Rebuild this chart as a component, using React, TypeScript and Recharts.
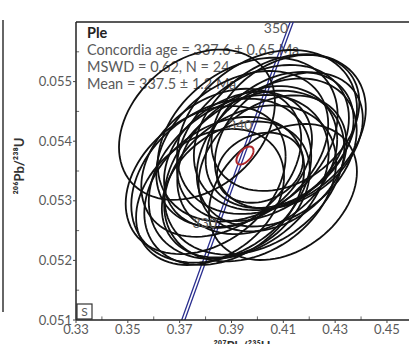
import React from 'react';
import { LineChart, Line, XAxis, YAxis, ReferenceLine } from 'recharts';

// Axis ticks
const xTicks = [0.33, 0.35, 0.37, 0.39, 0.41, 0.43, 0.45];
const xMinorTicks = [0.34, 0.36, 0.38, 0.4, 0.42, 0.44];
const yTicks = [0.051, 0.052, 0.053, 0.054, 0.055];
const yMinorTicks = [0.0515, 0.0525, 0.0535, 0.0545, 0.0555];

// Concordia curve (207Pb/235U, 206Pb/238U) at ages (Ma), two edges of the band
const concordiaAges = [320, 330, 340, 350, 355];
const concordiaXLow = [0.3699, 0.3834, 0.3971, 0.4109, 0.4179];
const concordiaXHigh = [0.3711, 0.3846, 0.3983, 0.4121, 0.4191];
const concordiaY = [0.050893, 0.052524, 0.054158, 0.055795, 0.056614];
const concordiaLabelAges = ['330', '340', '350'];
const concordiaLabelX = [0.384, 0.3977, 0.4115];
const concordiaLabelY = [0.052524, 0.054158, 0.055795];

// Analyses: error ellipses (centre, x half-extent, y half-extent, correlation)
const ellipseCx = [0.38003, 0.38721, 0.38605, 0.39168, 0.38605, 0.3928, 0.3972, 0.39253, 0.39882, 0.39415, 0.39994, 0.39624, 0.40584, 0.40214, 0.40746, 0.40372, 0.40858, 0.40866, 0.41213, 0.41078, 0.38173, 0.40986, 0.40099, 0.37668];
const ellipseCy = [0.053348, 0.053166, 0.053339, 0.05319, 0.053638, 0.0534, 0.053292, 0.053687, 0.053473, 0.053869, 0.053683, 0.054027, 0.053628, 0.05397, 0.053811, 0.054155, 0.05402, 0.054151, 0.054012, 0.054307, 0.053064, 0.053148, 0.053555, 0.054277];
const ellipseA = [0.03086, 0.03086, 0.03472, 0.02855, 0.03086, 0.03472, 0.03318, 0.02855, 0.03472, 0.03318, 0.03086, 0.03472, 0.02855, 0.03318, 0.03086, 0.03472, 0.02855, 0.03318, 0.02855, 0.02855, 0.02855, 0.02855, 0.01659, 0.03009];
const ellipseB = [0.001242, 0.001242, 0.001376, 0.001141, 0.001242, 0.001376, 0.001309, 0.001141, 0.001376, 0.001309, 0.001242, 0.001376, 0.001141, 0.001309, 0.001242, 0.001376, 0.001141, 0.001309, 0.001141, 0.001141, 0.001141, 0.001141, 0.000588, 0.001261];
const ellipseRho = [0.32, 0.3, 0.3, 0.28, 0.32, 0.3, 0.28, 0.3, 0.3, 0.32, 0.28, 0.3, 0.3, 0.32, 0.3, 0.28, 0.3, 0.3, 0.32, 0.3, 0.3, 0.3, 0.2, 0.3];

// Concordia age ellipse
const concordiaAgeEllipse = { cx: 0.3952, cy: 0.05376, a: 0.0033, b: 0.00015, rho: 0.55 };

const X_DOMAIN = [0.33, 0.4585];
const Y_DOMAIN = [0.051, 0.056];

function ellipsePoints(cx: number, cy: number, a: number, b: number, rho: number) {
  const pts: { x: number; y: number }[] = [];
  const s = Math.sqrt(1 - rho * rho);
  for (let k = 0; k <= 90; k++) {
    const t = (k / 90) * 2 * Math.PI;
    pts.push({ x: cx + a * Math.cos(t), y: cy + b * (rho * Math.cos(t) + s * Math.sin(t)) });
  }
  return pts;
}

const ellipses = ellipseCx.map((cx, i) => ellipsePoints(cx, ellipseCy[i], ellipseA[i], ellipseB[i], ellipseRho[i]));
const redEllipse = ellipsePoints(concordiaAgeEllipse.cx, concordiaAgeEllipse.cy, concordiaAgeEllipse.a, concordiaAgeEllipse.b, concordiaAgeEllipse.rho);
const concLow = concordiaAges.map((_, i) => ({ x: concordiaXLow[i], y: concordiaY[i] }));
const concHigh = concordiaAges.map((_, i) => ({ x: concordiaXHigh[i], y: concordiaY[i] }));
const concLabels = concordiaLabelAges.map((t, i) => ({ x: concordiaLabelX[i], y: concordiaLabelY[i], age: t }));

const FONT = 'Lato, "Open Sans", sans-serif';
const TXT = '#5a5a5a';

export default function App() {
  return (
    <div style={{ position: 'absolute', left: 0, top: 0, width: 409, height: 344, overflow: 'hidden', background: '#fff' }}>
      <svg width={409} height={344} style={{ position: 'absolute', left: 0, top: 0 }}>
        <line x1={3} y1={20} x2={3} y2={312} stroke="#666" strokeWidth={2} />
        <text x={87} y={38} fontFamily={FONT} fontSize={14.5} fontWeight={700} fill="#222">Ple</text>
        <text x={87} y={55} fontFamily={FONT} fontSize={14.5} fill={TXT}>Concordia age = 337.6 ± 0.65 Ma</text>
        <text x={87} y={72} fontFamily={FONT} fontSize={14.5} fill={TXT}>MSWD = 0.62, N = 24</text>
        <text x={87} y={89} fontFamily={FONT} fontSize={14.5} fill={TXT}>Mean = 337.5  ± 1.2 Ma</text>
        <text x={0} y={0} transform="translate(24,166) rotate(-90)" textAnchor="middle" fontFamily={FONT} fontSize={13} fontWeight={700} fill="#333">²⁰⁶Pb/²³⁸U</text>
        <text x={242} y={351} textAnchor="middle" fontFamily={FONT} fontSize={13} fontWeight={700} fill="#333">²⁰⁷Pb/²³⁵U</text>
        <rect x={77} y={304} width={15} height={15} fill="none" stroke="#333" strokeWidth={1.2} />
        <text x={84.5} y={316} textAnchor="middle" fontFamily={FONT} fontSize={12} fill={TXT}>S</text>
      </svg>
      <LineChart width={409} height={344} margin={{ top: 22, right: 0, bottom: 0, left: 0 }}>
        <XAxis
          type="number"
          dataKey="x"
          domain={X_DOMAIN}
          allowDataOverflow
          ticks={xTicks}
          height={24}
          tickSize={3}
          tickMargin={2}
          tick={{ fill: TXT, fontSize: 13, fontFamily: FONT }}
          tickFormatter={(v: number) => v.toFixed(2)}
          axisLine={{ stroke: '#222', strokeWidth: 1.5 }}
          tickLine={{ stroke: '#444' }}
        />
        <YAxis
          type="number"
          dataKey="y"
          domain={Y_DOMAIN}
          allowDataOverflow
          ticks={yTicks}
          width={76}
          tickSize={3}
          tickMargin={1}
          tick={{ fill: TXT, fontSize: 13, fontFamily: FONT }}
          tickFormatter={(v: number) => v.toFixed(3)}
          axisLine={{ stroke: '#222', strokeWidth: 1.5 }}
          tickLine={{ stroke: '#444' }}
        />
        <ReferenceLine y={0.056} stroke="#222" strokeWidth={1.5} />
        {xMinorTicks.map((t) => (
          <ReferenceLine key={'xm' + t} segment={[{ x: t, y: 0.051 }, { x: t, y: 0.05106 }]} stroke="#666" strokeWidth={1} />
        ))}
        {yMinorTicks.map((t) => (
          <ReferenceLine key={'ym' + t} segment={[{ x: 0.33, y: t }, { x: 0.3312, y: t }]} stroke="#666" strokeWidth={1} />
        ))}
        <Line data={concLow} dataKey="y" type="linear" stroke="#2b2f8f" strokeWidth={1.3} dot={false} isAnimationActive={false} />
        <Line data={concHigh} dataKey="y" type="linear" stroke="#2b2f8f" strokeWidth={1.3} dot={false} isAnimationActive={false} />
        {ellipses.map((pts, i) => (
          <Line key={'e' + i} data={pts} dataKey="y" type="linear" stroke="#111" strokeWidth={1.8} dot={false} isAnimationActive={false} />
        ))}
        <Line data={redEllipse} dataKey="y" type="linear" stroke="#b0262a" strokeWidth={2} dot={false} isAnimationActive={false} />
        <Line
          data={concLabels}
          dataKey="y"
          stroke="none"
          dot={false}
          isAnimationActive={false}
          label={(p: any) => (
            <text key={'cl' + p.index} x={p.x + 1} y={p.y - 5} textAnchor="end" dominantBaseline="middle" fontFamily={FONT} fontSize={14} fill={TXT}>
              {concLabels[p.index].age}
            </text>
          )}
        />
      </LineChart>
    </div>
  );
}
